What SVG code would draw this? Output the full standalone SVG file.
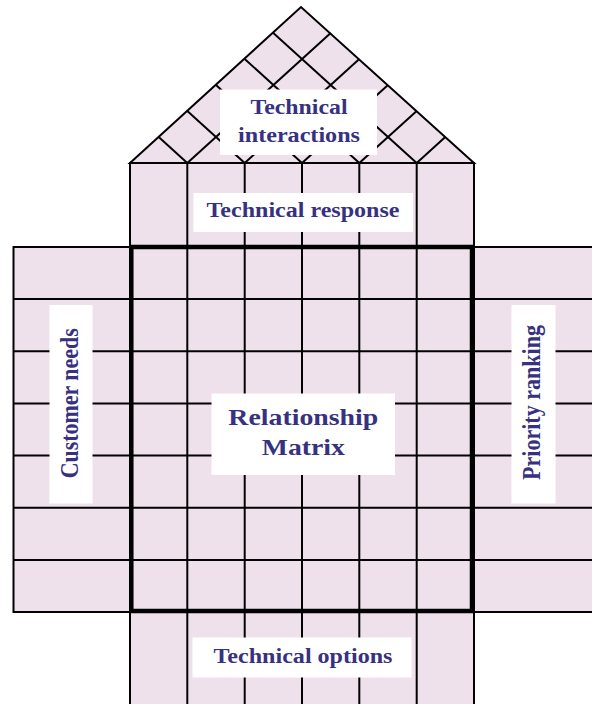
<svg xmlns="http://www.w3.org/2000/svg" width="592" height="704" viewBox="0 0 592 704">
<style>
.cell{fill:#eee1ec;stroke:#000;stroke-width:2}
.ln{stroke:#000;stroke-width:2;fill:none}
.thick{fill:none;stroke:#000;stroke-width:4.5}
.box{fill:#fff}
.lbl{font-family:"Liberation Serif","Times New Roman",serif;font-weight:bold;fill:#363180;text-anchor:middle}
</style>
<rect width="592" height="704" fill="#fff"/>

<g id="technical-interactions">
<polygon class="cell" points="130,163 301,7 474,163"/>
<path class="ln" d="M187.3,163 L330.7,33 M244.7,163 L359.3,59 M302,163 L388,85 M359.3,163 L416.7,111 M416.7,163 L445.3,137
M187.3,163 L158.7,137 M244.7,163 L187.3,111 M302,163 L216,85 M359.3,163 L244.7,59 M416.7,163 L273.3,33"/>
<rect class="box" x="220" y="89.5" width="157" height="65.5"/>
<text class="lbl" x="299" y="114" font-size="20" textLength="97" lengthAdjust="spacingAndGlyphs">Technical</text>
<text class="lbl" x="299" y="141.5" font-size="20" textLength="122" lengthAdjust="spacingAndGlyphs">interactions</text>
</g>

<g id="technical-response">
<rect class="cell" x="130" y="163" width="344" height="84"/>
<path class="ln" d="M187.3,163V247 M244.7,163V247 M302,163V247 M359.3,163V247 M416.7,163V247"/>
<rect class="box" x="193.5" y="193" width="219.5" height="39"/>
<text class="lbl" x="303" y="216.5" font-size="20" textLength="193" lengthAdjust="spacingAndGlyphs">Technical response</text>
</g>

<g id="customer-needs">
<rect class="cell" x="13.5" y="247" width="116.5" height="365"/>
<path class="ln" d="M13.5,299.1H130 M13.5,351.3H130 M13.5,403.4H130 M13.5,455.6H130 M13.5,507.7H130 M13.5,559.9H130"/>
<rect class="box" x="49.5" y="305" width="43" height="198.5"/>
<text class="lbl" font-size="22" textLength="150" lengthAdjust="spacingAndGlyphs" transform="translate(78,403.3) rotate(-90) scale(1,1.15)">Customer needs</text>
</g>

<g id="priority-ranking">
<rect class="cell" x="474" y="247" width="130" height="365"/>
<path class="ln" d="M474,299.1H600 M474,351.3H600 M474,403.4H600 M474,455.6H600 M474,507.7H600 M474,559.9H600"/>
<rect class="box" x="511.5" y="305" width="44" height="198.5"/>
<text class="lbl" font-size="22" textLength="155" lengthAdjust="spacingAndGlyphs" transform="translate(540,402.5) rotate(-90) scale(1,1.15)">Priority ranking</text>
</g>

<g id="technical-options">
<rect class="cell" x="130" y="612" width="344" height="100"/>
<path class="ln" d="M187.3,612V712 M244.7,612V712 M302,612V712 M359.3,612V712 M416.7,612V712"/>
<rect class="box" x="192.5" y="637.5" width="219" height="40"/>
<text class="lbl" x="303" y="662.5" font-size="20" textLength="179" lengthAdjust="spacingAndGlyphs">Technical options</text>
</g>

<g id="relationship-matrix">
<rect class="cell" x="130" y="247" width="344" height="365"/>
<path class="ln" d="M187.3,247V612 M244.7,247V612 M302,247V612 M359.3,247V612 M416.7,247V612
M130,299.1H474 M130,351.3H474 M130,403.4H474 M130,455.6H474 M130,507.7H474 M130,559.9H474"/>
<rect class="box" x="211.5" y="393.5" width="183.5" height="81.5"/>
<text class="lbl" x="303.3" y="425" font-size="24" textLength="150" lengthAdjust="spacingAndGlyphs">Relationship</text>
<text class="lbl" x="303.3" y="455" font-size="24" textLength="83" lengthAdjust="spacingAndGlyphs">Matrix</text>
<rect class="thick" x="131.3" y="247" width="340.7" height="364"/>
</g>

<g id="connectors"></g>
</svg>
